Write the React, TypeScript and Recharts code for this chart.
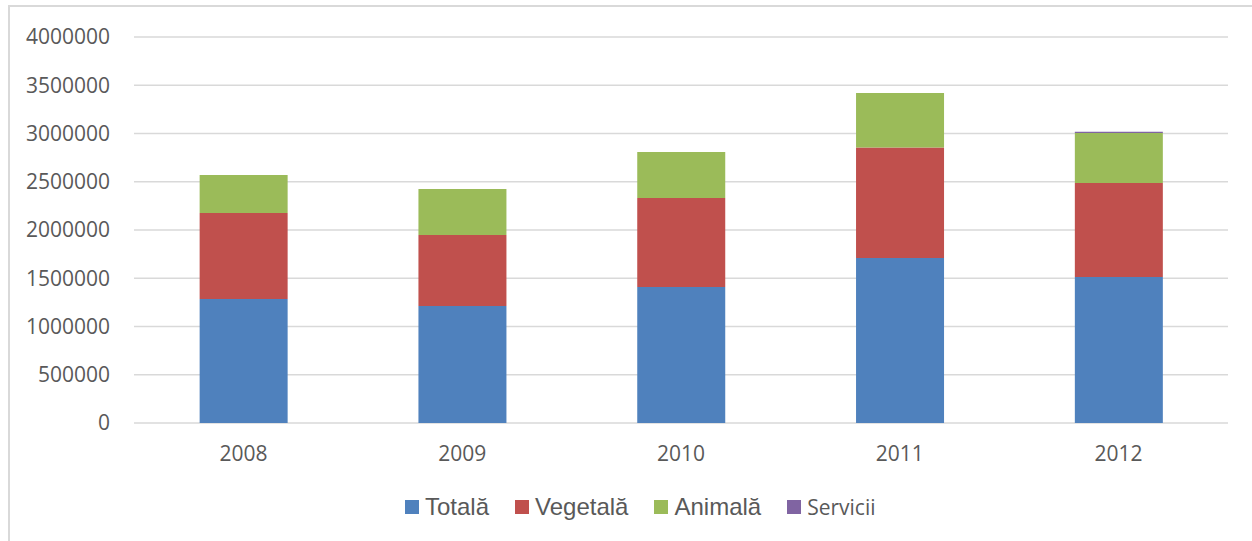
import { BarChart, Bar, XAxis, YAxis, CartesianGrid } from 'recharts';

const years = ['2008', '2009', '2010', '2011', '2012'];
const totala = [1285000, 1212000, 1409000, 1710000, 1513000];
const vegetala = [891000, 736000, 923000, 1145000, 974000];
const animala = [394000, 477000, 476000, 565000, 518000];
const servicii = [0, 0, 0, 0, 14000];
const yTicks = [0, 500000, 1000000, 1500000, 2000000, 2500000, 3000000, 3500000, 4000000];

const series = [
  { key: 'totala', name: 'Totală', color: '#4F81BD' },
  { key: 'vegetala', name: 'Vegetală', color: '#C0504D' },
  { key: 'animala', name: 'Animală', color: '#9BBB59' },
  { key: 'servicii', name: 'Servicii', color: '#8064A2' },
];

const data = years.map((year, i) => ({
  year,
  totala: totala[i],
  vegetala: vegetala[i],
  animala: animala[i],
  servicii: servicii[i],
}));

const tickStyle = { fill: '#595959', fontSize: 21, fontFamily: '"Open Sans", sans-serif' };

export default function App() {
  return (
    <div style={{ position: 'relative', width: 1252, height: 541, overflow: 'hidden', background: '#fff' }}>
      <style>{'body{margin:0;overflow:hidden;background:#fff}'}</style>
      <div
        style={{
          position: 'absolute',
          left: 8,
          top: 5,
          width: 1400,
          height: 700,
          borderTop: '2px solid #d9d9d9',
          borderLeft: '2px solid #d9d9d9',
        }}
      />
      <div style={{ position: 'absolute', left: 0, top: 0 }}>
        <BarChart
          width={1252}
          height={485}
          data={data}
          margin={{ top: 37, right: 24, left: 0, bottom: 22 }}
          barCategoryGap="30%"
        >
          <CartesianGrid vertical={false} stroke="#d9d9d9" strokeWidth={1.5} />
          <XAxis
            dataKey="year"
            axisLine={false}
            tickLine={false}
            tickSize={0}
            tickMargin={23}
            height={40}
            tick={tickStyle}
          />
          <YAxis
            width={134}
            domain={[0, 4000000]}
            ticks={yTicks}
            axisLine={false}
            tickLine={false}
            tickSize={0}
            tickMargin={24}
            tick={tickStyle}
            interval={0}
          />
          {series.map((s) => (
            <Bar key={s.key} dataKey={s.key} name={s.name} stackId="a" fill={s.color} isAnimationActive={false} />
          ))}
        </BarChart>
      </div>
      <div
        style={{
          position: 'absolute',
          left: 405,
          top: 493,
          display: 'flex',
          alignItems: 'center',
          gap: 26,
          color: '#595959',
        }}
      >
        {series.map((s) => (
          <div key={s.key} style={{ display: 'flex', alignItems: 'center', gap: 6 }}>
            <span style={{ width: 14, height: 14, background: s.color, display: 'inline-block' }} />
            <span
              style={
                s.key === 'servicii'
                  ? { fontFamily: '"Open Sans", sans-serif', fontSize: 21 }
                  : { fontFamily: '"Liberation Sans", Arial, sans-serif', fontSize: 24 }
              }
            >
              {s.name}
            </span>
          </div>
        ))}
      </div>
    </div>
  );
}
